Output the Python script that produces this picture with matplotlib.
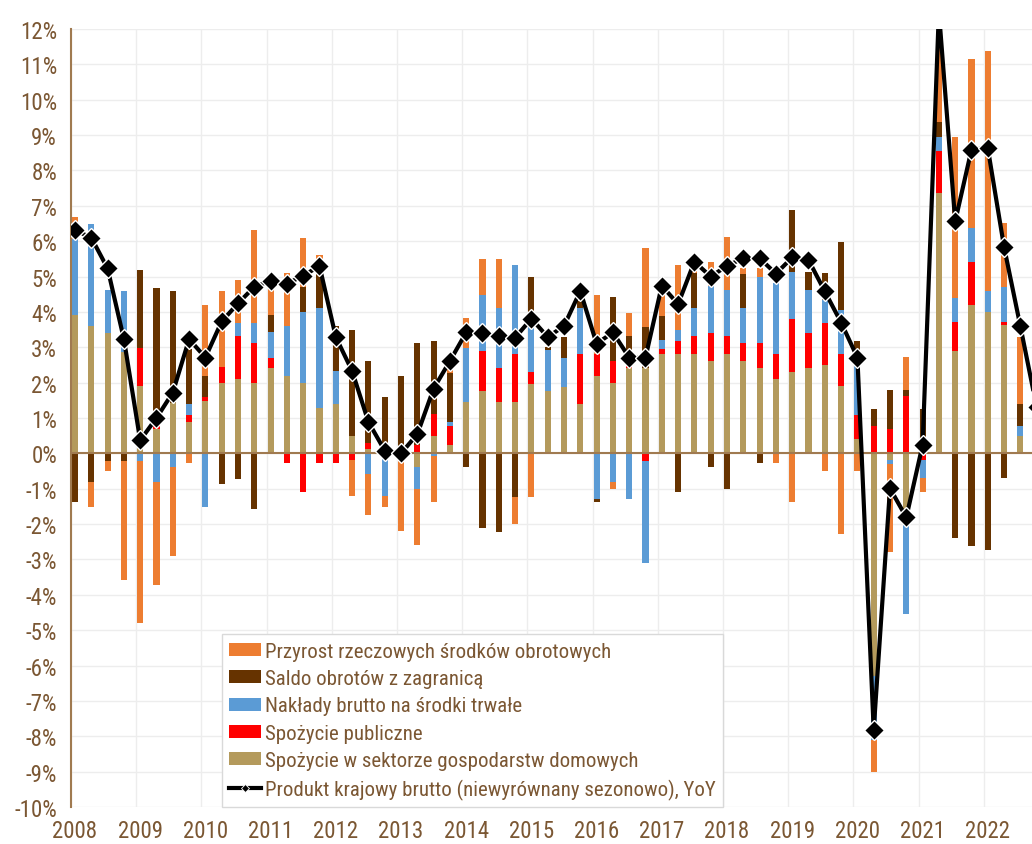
import matplotlib
matplotlib.use("Agg")
import matplotlib.pyplot as plt
import numpy as np
from matplotlib.lines import Line2D
from matplotlib.patches import Patch
from matplotlib import font_manager as fm

# pick the narrowest available sans family (reference uses Arial Narrow)
avail = [(f.name, f.stretch) for f in fm.fontManager.ttflist]
names = {a[0] for a in avail}
font_family, font_stretch = 'Liberation Sans', 'normal'
for cand in ['Liberation Sans Narrow', 'Arial Narrow', 'Roboto Condensed', 'Open Sans Condensed']:
    if cand in names:
        font_family, font_stretch = cand, 'normal'
        break
else:
    for fam in ['Roboto', 'Noto Sans', 'Open Sans']:
        if any(a[0] == fam and str(a[1]) in ('condensed', 'semi-condensed', '75', '87') for a in avail):
            font_family, font_stretch = fam, 'condensed'
            break

plt.rcParams['font.family'] = [font_family, 'DejaVu Sans']
plt.rcParams['font.stretch'] = font_stretch

years = [str(y) for y in range(2008, 2023)]

# contributions (pp), quarters 2008Q1 .. 2022Q3
households = [3.9, 3.6, 3.4, 2.88, 1.9, 0.7, 1.43, 0.89, 1.48, 1.98, 2.1, 1.98, 2.4, 2.19, 1.98, 1.29,
              1.39, 0.49, 0.11, 0.05, 0.0, -0.38, 0.49, 0.25, 1.46, 1.76, 1.46, 1.46, 1.97, 1.76, 1.88, 1.41,
              2.19, 1.98, 2.42, 2.42, 2.8, 2.8, 2.8, 2.61, 2.8, 2.61, 2.4, 2.11, 2.31, 2.4, 2.49, 1.91,
              0.4, -6.3, -0.2, -2.0, 0.3, 7.36, 2.89, 4.2, 3.99, 3.64, 0.48]
public = [0, 0, 0, 0, 1.07, 0.08, 0, 0.2, 0.12, 0.47, 1.22, 1.13, 0.29, -0.28, -1.08, -0.28,
          -0.28, -0.2, 0.17, 0, 0, 0.23, 0.61, 0.52, 0, 1.14, 0.94, 1.34, 0.33, 0, 0, 1.39,
          0.61, 0.63, 0.1, -0.22, 0.16, 0.38, 0.52, 0.79, 0.52, 0.52, 0.71, 0.69, 1.5, 1.0, 1.21, 0.89,
          0.69, 0.76, 0.7, 1.63, -0.18, 1.18, 0.82, 1.2, 0, 0.07, 0]
investment = [2.16, 2.88, 1.21, 1.72, -0.22, -0.81, -0.38, 0.32, -1.51, 0, 0.38, 0.59, 0.73, 1.41, 2.02, 2.81,
              0.93, 0, -0.59, -1.21, 0, -0.64, -0.08, 0.12, 1.53, 1.57, 1.7, 2.52, 1.49, 1.16, 0.82, 1.3,
              -1.3, -0.81, -1.3, -2.87, 0.24, 0.3, 0.78, 1.34, 1.29, 0.97, 1.89, 2.03, 1.32, 1.21, 0.63, 1.26,
              1.38, -1.8, -0.1, -2.53, -0.52, 0.4, 0.67, 0.96, 0.61, 0.99, 0.3]
net_exports = [-1.38, -0.81, -0.22, -0.22, 2.22, 3.91, 3.17, 1.53, 0.59, -0.88, -0.72, -1.58, 0.49, 0, 0.71, 1.01,
               1.28, 2.99, 2.33, 1.55, 2.19, 2.88, 2.08, 1.39, -0.38, -2.1, -2.22, -1.23, 1.2, 0.1, 0.6, 0.21,
               -0.08, 1.8, 0.8, 1.16, 0.69, -1.08, 1.01, -0.38, -1.02, 0.98, -0.28, 0, 1.76, 0.52, 0.78, 1.92,
               0.72, 0.5, 1.1, 0.17, 0.95, 0.42, -2.4, -2.62, -2.73, -0.71, 0.62]
inventories = [0.61, -0.71, -0.28, -3.37, -4.57, -2.92, -2.51, -0.28, 2.01, 2.14, 1.2, 2.61, 1.1, 1.51, 1.39, 0.49,
               0, -1.01, -1.14, -0.31, -2.2, -1.57, -1.29, 0.14, 0.83, 1.02, 1.39, -0.77, -1.23, 0, 0, 0,
               1.68, -0.21, 0.66, 2.24, 0.61, 1.84, 0.1, 0.66, 1.51, 0.17, 0.25, -0.28, -1.38, 0, -0.5, -2.29,
               -0.5, -0.9, -2.5, 0.92, -0.4, 2.5, 4.56, 4.8, 6.77, 1.81, 1.88]
# GDP YoY, 2008Q1 .. 2022Q4
gdp = [6.31, 6.1, 5.23, 3.23, 0.37, 1.0, 1.72, 3.23, 2.71, 3.73, 4.24, 4.71, 4.88, 4.8, 5.02, 5.3,
       3.29, 2.33, 0.89, 0.08, 0.0, 0.54, 1.83, 2.61, 3.42, 3.4, 3.32, 3.27, 3.81, 3.29, 3.6, 4.59,
       3.1, 3.42, 2.71, 2.71, 4.74, 4.22, 5.42, 5.0, 5.3, 5.52, 5.52, 5.08, 5.54, 5.47, 4.58, 3.7,
       2.71, -7.82, -0.99, -1.81, 0.24, 12.5, 6.56, 8.59, 8.63, 5.83, 3.59, 1.3]

labels = ["Spożycie w sektorze gospodarstw domowych", "Spożycie publiczne",
          "Nakłady brutto na środki trwałe", "Saldo obrotów z zagranicą",
          "Przyrost rzeczowych środków obrotowych"]
line_label = "Produkt krajowy brutto (niewyrównany sezonowo), YoY"
colors = ["#B49A5C", "#FF0000", "#5B9BD5", "#663300", "#ED7D31"]
text_color = "#7B5733"

fig = plt.figure(figsize=(10.32, 8.45), dpi=100)
renderer = fig.canvas.get_renderer()


def fit_size(s, target_px, base=16):
    t = fig.text(0, 0, s, fontsize=base)
    w = t.get_window_extent(renderer=renderer).width
    t.remove()
    return min(base * target_px / w, 17)


leg_size = fit_size("Przyrost rzeczowych środków obrotowych", 347)
tick_size = fit_size("12%", 37)

ax = fig.add_axes([71/1032, (845-808)/845, (1032-71)/1032, (808-30)/845])

series = [households, public, investment, net_exports, inventories]
n = len(households)
x = np.arange(n)
pos = np.zeros(n)
neg = np.zeros(n)
for vals, col, lab in zip(series, colors, labels):
    v = np.array(vals, dtype=float)
    bottom = np.where(v >= 0, pos, neg)
    ax.bar(x, v, bottom=bottom, width=0.37, color=col, label=lab, zorder=2, linewidth=0)
    pos = pos + np.where(v >= 0, v, 0)
    neg = neg + np.where(v < 0, v, 0)

xg = np.arange(len(gdp))
ax.plot(xg, gdp, color="black", lw=3.0, marker="D", markersize=10,
        markerfacecolor="black", markeredgecolor="white", markeredgewidth=1.0, zorder=4)

ax.set_ylim(-10, 12)
ax.set_xlim(-0.245, (1032 - 75) / 16.3)

ax.set_yticks(range(-10, 13))
ax.set_yticklabels([f"{v}%" for v in range(-10, 13)])
ax.set_xticks(np.arange(0, 4 * len(years), 4))
ax.set_xticklabels(years)
ax.tick_params(axis='both', length=0, labelsize=tick_size, colors=text_color)
ax.tick_params(axis='y', pad=10)
ax.tick_params(axis='x', pad=9)

# grid
for yv in range(-10, 13):
    ax.axhline(yv, color="#EDEDED", lw=1.0, zorder=0)
for k in range(len(years) + 1):
    ax.axvline(-0.245 + 4 * k, color="#EDEDED", lw=1.0, zorder=0)
ax.axhline(0, color="#A07A50", lw=1.5, zorder=3)

for s in ["top", "right", "bottom"]:
    ax.spines[s].set_visible(False)
ax.spines["left"].set_color("#A07A50")
ax.spines["left"].set_linewidth(1.5)

handles = [Patch(facecolor=colors[i], edgecolor='none') for i in [4, 3, 2, 1, 0]]
handles.append(Line2D([0], [0], color="black", lw=3, marker="D", markersize=4,
                      markerfacecolor="black", markeredgecolor="white", markeredgewidth=0.6))
leg_labels = [labels[i] for i in [4, 3, 2, 1, 0]] + [line_label]
spacing = max(0.1, (29.3 - leg_size * 100 / 72 * 1.0) / (leg_size * 100 / 72))
leg = ax.legend(handles, leg_labels, loc="lower left", bbox_to_anchor=(0.157, 0.0),
                borderaxespad=0, fontsize=leg_size, frameon=True, fancybox=False,
                edgecolor="#D9D9D9", framealpha=1, handlelength=1.45 * 16 / leg_size,
                handleheight=0.55 * 16 / leg_size,
                handletextpad=0.15, labelspacing=spacing, borderpad=0.35)
leg.get_frame().set_linewidth(1.0)
leg.set_zorder(5)
for t in leg.get_texts():
    t.set_color(text_color)

fig.savefig("out.png", dpi=100)
